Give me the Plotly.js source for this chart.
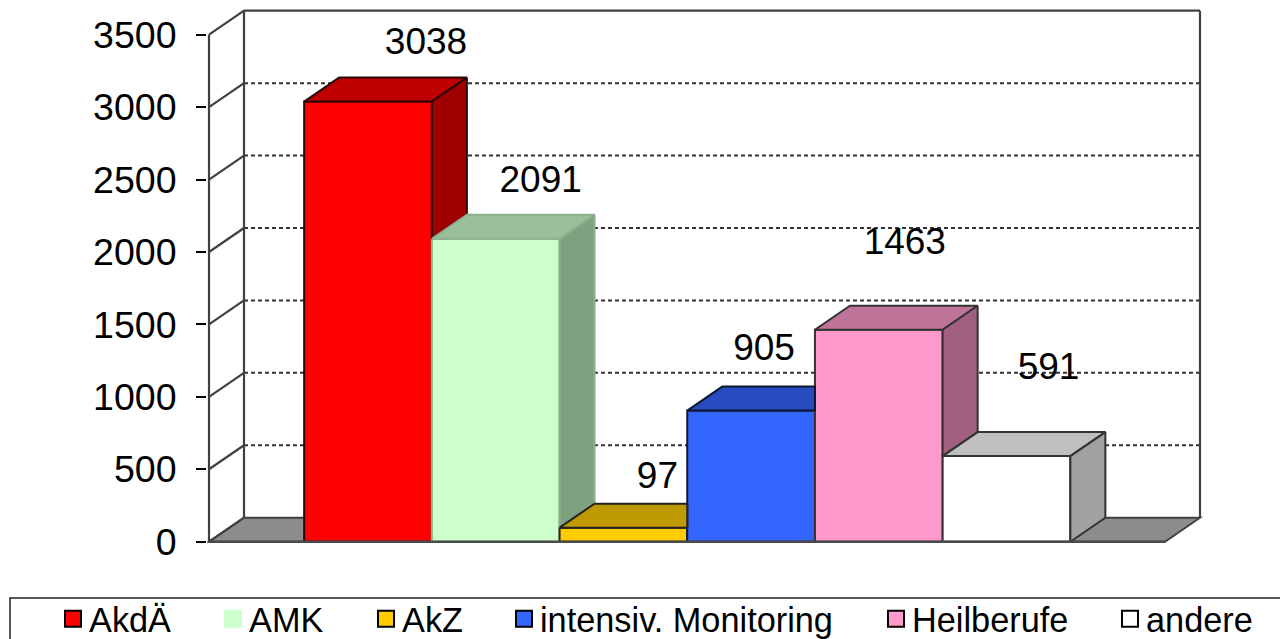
<!DOCTYPE html>
<html><head><meta charset="utf-8">
<script src="https://cdn.plot.ly/plotly-3.0.1.min.js"></script>
<style>html,body{margin:0;padding:0;background:#fff}#c{width:1280px;height:639px}</style>
</head><body><div id="c"></div>
<script>
// Data
const categories = ['AkdÄ','AMK','AkZ','intensiv. Monitoring','Heilberufe','andere'];
const values = [3038,2091,97,905,1463,591];
const tickValues = [0,500,1000,1500,2000,2500,3000,3500];
const tickLabels = ['0','500','1000','1500','2000','2500','3000','3500'];

// Styles
const frontColors = ['#FF0000','#CCFFCC','#FFCC00','#3366FF','#FF99CC','#FFFFFF'];
const topColors   = ['#BF0000','#99C099','#BF9900','#264CBF','#BF7399','#BFBFBF'];
const sideColors  = ['#A10000','#80A180','#A18000','#2040A1','#A16080','#A1A1A1'];
const edgeColors  = ['#2a0808','#8fb08f','#222222','#101830','#333333','#333333'];
const swatchLine  = ['#000000','#CCFFCC','#000000','#000000','#000000','#000000'];
const labelOffsetX = [58,45,34,13,26,42];   // px from bar centre
const labelOffsetY = [57,56,49,60,85,86];   // px above bar top
const legendTextX  = [89,249,402,540,912,1146]; // px where legend text starts

// Geometry: pixel frame of the chart
const L=207,R=1203,T=7,B=545, zeroPx=541.7, barPx=127.7, bar0Px=368, unitPx=(541-34)/3500, depthX=35, depthY=24;
const xOf = p => (p-bar0Px)/barPx;
const xRange=[xOf(L),xOf(R)], yRange=[(zeroPx-B)/unitPx,(zeroPx-T)/unitPx];
const dx=depthX/barPx, dy=depthY/unitPx, W=0.5;
const xFrontL=xOf(209), xFrontR=xOf(1165), xBackR=xOf(1200);
const WALL='#404040';

const traces=[];
// front faces: real bars
categories.forEach((c,i)=>{
  traces.push({type:'bar',x:[i],y:[values[i]],width:[1],name:c,showlegend:false,hoverinfo:'x+y',
    marker:{color:frontColors[i],line:{color:edgeColors[i],width:2}}});
});
// top and side faces
categories.forEach((c,i)=>{
  const v=values[i], next=i+1<values.length?values[i+1]:0;
  const x0=i-W,x1=i+W;
  const tx = next>v ? [x0,x1,x1,x0+dx,x0] : [x0,x1,x1+dx,x0+dx,x0];
  const ty = [v,v,v+dy,v+dy,v];
  traces.push({type:'scatter',mode:'lines',x:tx,y:ty,fill:'toself',fillcolor:topColors[i],
    line:{color:edgeColors[i],width:2},showlegend:false,hoverinfo:'skip'});
  if(v>next){
    traces.push({type:'scatter',mode:'lines',x:[x1,x1+dx,x1+dx,x1,x1],y:[v,v+dy,next+dy,next,v],
      fill:'toself',fillcolor:sideColors[i],line:{color:edgeColors[i],width:2},showlegend:false,hoverinfo:'skip'});
  }
});
// data labels
traces.push({type:'scatter',mode:'text',
  x:values.map((v,i)=>i+labelOffsetX[i]/barPx),
  y:values.map((v,i)=>v+labelOffsetY[i]/unitPx),
  text:values.map(String),textposition:'middle center',
  textfont:{family:'Liberation Sans',size:37,color:'#000'},cliponaxis:false,showlegend:false,hoverinfo:'skip'});
// legend entries, each placed in its own legend
const layoutLegends={};
categories.forEach((c,i)=>{
  const key=i===0?'legend':'legend'+(i+1);
  traces.push({type:'scatter',mode:'markers',x:[null],y:[null],name:c,legend:key,showlegend:true,
    marker:{symbol:'square',size:16,color:frontColors[i],line:{color:swatchLine[i],width:2}}});
  layoutLegends[key]={x:(legendTextX[i]-40-L)/(R-L),xanchor:'left',y:(B-619)/(B-T),yanchor:'middle',
    bgcolor:'rgba(0,0,0,0)',borderwidth:0,font:{family:'Liberation Sans',size:34.3,color:'#000'}};
});

// Walls, floor and grid lie behind the bars
const wallShapes=[];
const ln=(x0,y0,x1,y1,line,layer)=>wallShapes.push({type:'line',xref:'x',yref:'y',x0,y0,x1,y1,layer:layer||'below',line});
const solid={color:WALL,width:2.2};
const topTick=tickValues[tickValues.length-1];
wallShapes.push({type:'path',xref:'x',yref:'y',layer:'below',fillcolor:'#8C8C8C',line:{color:WALL,width:2},
  path:`M${xFrontL},0 L${xFrontL+dx},${dy} L${xFrontR+dx},${dy} L${xFrontR},0 Z`});
tickValues.slice(1,-1).forEach(t=>ln(xFrontL+dx,t+dy,xBackR,t+dy,{color:'#333',width:2,dash:'4px,3px'}));
tickValues.forEach(t=>ln(xFrontL,t,xFrontL+dx,t+dy,solid));
ln(xFrontL,0,xFrontL,topTick,solid);
ln(xFrontL+dx,dy,xFrontL+dx,topTick+dy,solid);
ln(xFrontL+dx,topTick+dy,xBackR,topTick+dy,solid);
ln(xBackR,dy,xBackR,topTick+dy,solid);
ln(xFrontL,0,xFrontR,0,{color:'#4a4a4a',width:2.4},'above');
// legend frame
wallShapes.push({type:'rect',xref:'paper',yref:'paper',x0:(10-L)/(R-L),x1:(1300-L)/(R-L),y0:(B-660)/(B-T),y1:(B-598)/(B-T),
  line:{color:'#222',width:1.5},fillcolor:'rgba(0,0,0,0)'});

const layout=Object.assign({
  width:1280,height:639,margin:{l:L,r:1280-R,t:T,b:639-B,pad:0,autoexpand:false},
  paper_bgcolor:'#fff',plot_bgcolor:'#fff',showlegend:true,barmode:'overlay',
  font:{family:'Liberation Sans',color:'#000'},
  xaxis:{range:xRange,showgrid:false,zeroline:false,showticklabels:false,ticks:'',showline:false,fixedrange:true},
  yaxis:{range:yRange,tickmode:'array',tickvals:tickValues,ticktext:tickLabels,showgrid:false,zeroline:false,showline:false,
    ticks:'outside',ticklen:10,tickwidth:1.5,tickcolor:'#000',ticklabelstandoff:12,
    tickfont:{family:'Liberation Sans',size:37.5,color:'#000'},fixedrange:true},
  shapes:wallShapes
},layoutLegends);
Plotly.newPlot('c',traces,layout,{displayModeBar:false,responsive:false}).then(()=>{
  // bring each legend swatch closer to its text
  document.querySelectorAll('#c .legendsymbols path').forEach(p=>p.setAttribute('transform','translate(24,0)'));
});
</script></body></html>
